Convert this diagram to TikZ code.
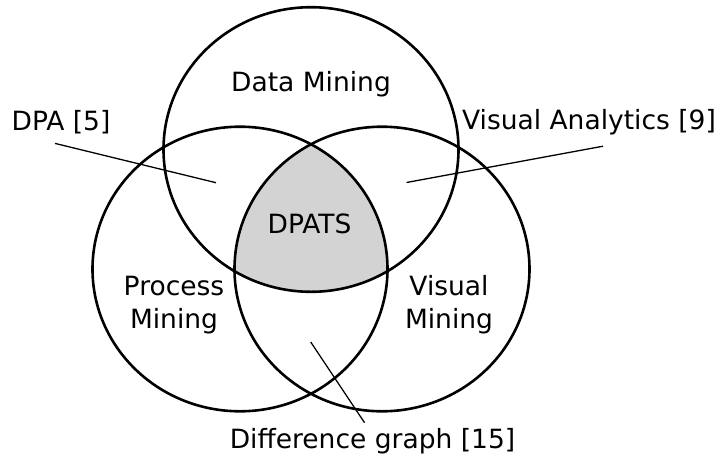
\documentclass[tikz,border=0pt]{standalone}
\usepackage{fontspec}
\setmainfont{DejaVu Sans}
\definecolor{coregray}{RGB}{211,211,211}
\tikzset{
  set/.style={line width=2.6pt},
  leader/.style={line width=1.3pt},
  lbl/.style={font=\fontsize{26.5}{33}\selectfont, inner sep=0pt, anchor=base, align=center},
}
\begin{document}
\begin{tikzpicture}[x=1pt,y=-1pt]
    \useasboundingbox (0,0) rectangle (721,456);
    \coordinate (dm) at (311,149.5);
    \coordinate (pm) at (240,269);
    \coordinate (vm) at (382,269);
    % common part of the three sets
    \begin{scope}
      \clip (dm) ellipse [x radius=147.5, y radius=142.3];
      \clip (pm) ellipse [x radius=147.5, y radius=142.3];
      \fill[coregray] (vm) ellipse [x radius=147.5, y radius=142.3];
    \end{scope}
    \foreach \s in {dm,pm,vm}
    \draw[set] (\s) ellipse [x radius=147.5, y radius=142.3];
    \node[lbl] (dmlbl) at (311,91) {Data Mining};
    \node[lbl] (pmlbl) at (174,328) {Process\\Mining};
    \node[lbl] (vmlbl) at (449,328) {Visual\\Mining};
    \node[lbl] (core) at (309.5,233.5) {DPATS};
    \node[lbl] (dpa) at (61,130.7) {DPA [5]};
    \node[lbl] (va) at (589,129.5) {Visual Analytics [9]};
    \node[lbl] (diff) at (372.5,448) {Difference graph [15]};
    \coordinate (dpatip) at (216,182.7);
    \coordinate (vatip) at (406.5,182.5);
    \coordinate (difftip) at (310.7,342);
    \draw[leader] (dpa.south) ++(-6,9) -- (dpatip);
    \draw[leader] (va.south) ++(14,11) -- (vatip);
    \draw[leader] (diff.north) ++(-8,-5) -- (difftip);
  \end{tikzpicture}
\end{document}
